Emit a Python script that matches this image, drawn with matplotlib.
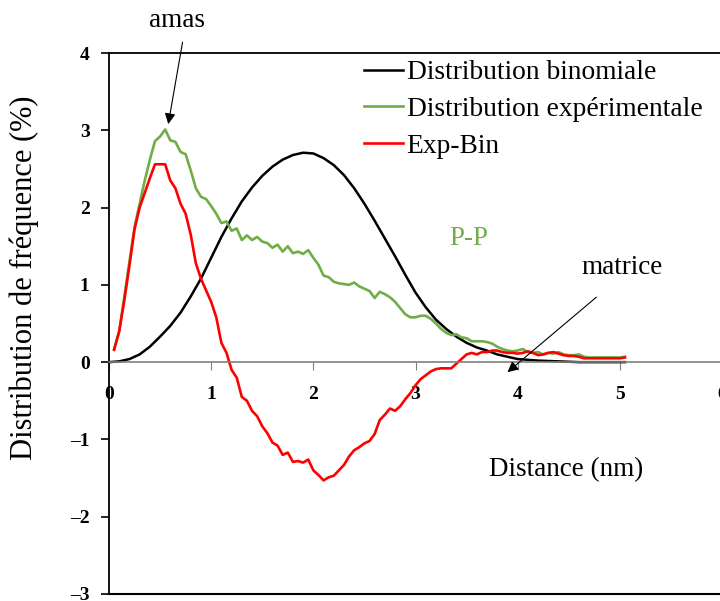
import matplotlib
matplotlib.use("Agg")
import matplotlib.pyplot as plt
from matplotlib.ticker import FuncFormatter

plt.rcParams['font.family'] = ['Liberation Serif', 'DejaVu Serif']
plt.rcParams['axes.unicode_minus'] = False

# binomial distribution (smooth)
dist_bin = [0, 0.1, 0.2, 0.3, 0.4, 0.5, 0.6, 0.7, 0.8, 0.9, 1.0, 1.1, 1.2, 1.3, 1.4, 1.5,
            1.6, 1.7, 1.8, 1.9, 2.0, 2.1, 2.2, 2.3, 2.4, 2.5, 2.6, 2.7, 2.8, 2.9, 3.0, 3.1,
            3.2, 3.3, 3.4, 3.5, 3.6, 3.7, 3.8, 3.9, 4.0, 4.2, 4.4, 4.6, 4.8, 5.05]
freq_bin = [0, 0.01, 0.04, 0.1, 0.2, 0.33, 0.47, 0.64, 0.85, 1.08, 1.35, 1.62, 1.86, 2.08,
            2.26, 2.41, 2.53, 2.62, 2.68, 2.71, 2.7, 2.64, 2.55, 2.42, 2.25, 2.05, 1.83, 1.6,
            1.37, 1.13, 0.9, 0.71, 0.55, 0.43, 0.33, 0.25, 0.19, 0.15, 0.1, 0.07, 0.04, 0.02,
            0.01, 0.0, 0.0, 0.0]

# experimental distribution
dist_exp = [0.05, 0.10, 0.15, 0.20, 0.25, 0.30, 0.35, 0.40, 0.45, 0.50, 0.55, 0.60, 0.65, 0.70,
            0.75, 0.80, 0.85, 0.90, 0.95, 1.00, 1.05, 1.10, 1.15, 1.20, 1.25, 1.30, 1.35, 1.40,
            1.45, 1.50, 1.55, 1.60, 1.65, 1.70, 1.75, 1.80, 1.85, 1.90, 1.95, 2.00, 2.05, 2.10,
            2.15, 2.20, 2.25, 2.30, 2.35, 2.40, 2.45, 2.50, 2.55, 2.60, 2.65, 2.70, 2.75, 2.80,
            2.85, 2.90, 2.95, 3.00, 3.05, 3.10, 3.15, 3.20, 3.25, 3.30, 3.35, 3.40, 3.45, 3.50,
            3.55, 3.60, 3.65, 3.70, 3.75, 3.80, 3.85, 3.90, 3.95, 4.00, 4.05, 4.10, 4.15, 4.20,
            4.25, 4.30, 4.35, 4.40, 4.45, 4.50, 4.55, 4.60, 4.65, 4.70, 4.75, 4.80, 4.85, 4.90,
            4.95, 5.00, 5.05]
freq_exp = [0.17, 0.40, 0.85, 1.30, 1.75, 2.05, 2.35, 2.62, 2.86, 2.92, 3.01, 2.87, 2.85, 2.72,
            2.69, 2.48, 2.25, 2.14, 2.11, 2.02, 1.92, 1.80, 1.82, 1.70, 1.73, 1.58, 1.64, 1.58,
            1.62, 1.56, 1.54, 1.48, 1.52, 1.43, 1.50, 1.41, 1.43, 1.40, 1.45, 1.35, 1.26, 1.12,
            1.10, 1.04, 1.02, 1.01, 1.00, 1.03, 0.98, 0.95, 0.92, 0.83, 0.91, 0.88, 0.84, 0.78,
            0.70, 0.62, 0.58, 0.58, 0.60, 0.60, 0.56, 0.50, 0.43, 0.38, 0.35, 0.36, 0.32, 0.31,
            0.27, 0.27, 0.27, 0.26, 0.24, 0.20, 0.17, 0.15, 0.14, 0.15, 0.17, 0.13, 0.12, 0.13,
            0.10, 0.12, 0.11, 0.13, 0.10, 0.09, 0.09, 0.10, 0.07, 0.06, 0.06, 0.06, 0.06, 0.06,
            0.06, 0.06, 0.07]

# difference exp - bin
dist_diff = dist_exp
freq_diff = [0.16, 0.40, 0.80, 1.25, 1.72, 2.00, 2.19, 2.38, 2.56, 2.56, 2.56, 2.35, 2.25, 2.05,
             1.92, 1.65, 1.28, 1.08, 0.93, 0.78, 0.58, 0.25, 0.12, -0.10, -0.20, -0.45, -0.50,
             -0.63, -0.70, -0.83, -0.92, -1.04, -1.08, -1.20, -1.17, -1.29, -1.28, -1.30, -1.26,
             -1.40, -1.46, -1.53, -1.49, -1.47, -1.40, -1.33, -1.22, -1.14, -1.10, -1.05, -1.02,
             -0.93, -0.75, -0.68, -0.60, -0.63, -0.57, -0.48, -0.40, -0.30, -0.22, -0.17, -0.12,
             -0.09, -0.08, -0.08, -0.08, -0.02, 0.04, 0.10, 0.12, 0.10, 0.13, 0.13, 0.15, 0.15,
             0.13, 0.12, 0.12, 0.11, 0.12, 0.14, 0.12, 0.09, 0.10, 0.12, 0.13, 0.11, 0.09, 0.08,
             0.08, 0.07, 0.05, 0.05, 0.05, 0.05, 0.05, 0.05, 0.05, 0.05, 0.06]

green = '#70AD47'

fig = plt.figure(figsize=(7.2, 6.01), dpi=100)
ax = fig.add_axes([109/720, 7/601, 613/720, 541/601])

l1, = ax.plot(dist_bin, freq_bin, color='black', lw=1.8)
l2, = ax.plot(dist_exp, freq_exp, color=green, lw=1.9)
l3, = ax.plot(dist_diff, freq_diff, color='#FF0000', lw=1.9)

ax.set_xlim(0, 6)
ax.set_ylim(-3, 4)
ax.set_xticks(range(0, 7))
ax.set_yticks(range(-3, 5))
ax.yaxis.set_major_formatter(FuncFormatter(
    lambda v, p: ('\u2013%d' % abs(v)) if v < 0 else '%d' % v))

# x axis at zero, grey; frame bottom kept through a secondary axis
ax.spines['bottom'].set_position(('data', 0))
ax.spines['bottom'].set_color('#808080')
ax.spines['bottom'].set_linewidth(1.2)
ax.spines['top'].set_linewidth(1.3)
ax.spines['left'].set_linewidth(1.3)
ax.spines['right'].set_visible(False)
frame = ax.secondary_xaxis('bottom')
frame.set_xticks([])
frame.spines['bottom'].set_linewidth(1.5)

ax.tick_params(axis='x', direction='out', length=6, color='#808080', pad=11,
               labelsize=14)
ax.tick_params(axis='y', direction='out', length=6, width=1.2, pad=8, labelsize=14)
for lab in ax.get_xticklabels() + ax.get_yticklabels():
    lab.set_fontweight('bold')

ax.set_ylabel('Distribution de fréquence (%)', fontsize=22, va='center', ha='center')
ax.yaxis.set_label_coords((24 - 109) / 613, (594 - 278) / 541)
ax.set_xlabel('Distance (nm)', fontsize=19.5, va='top')
ax.xaxis.set_label_coords((566 - 109) / 613, (594 - 457) / 541)

fig.legend([l1, l2, l3], ['Distribution binomiale', 'Distribution expérimentale', 'Exp-Bin'],
           loc='upper left', bbox_to_anchor=(364/720, 1 - 60/601), frameon=False,
           fontsize=19.8, handlelength=1.4, handletextpad=0.15, labelspacing=0.42,
           borderpad=0, borderaxespad=0)

arrow = dict(arrowstyle='-|>', color='black', lw=0.8, mutation_scale=16,
             shrinkA=0, shrinkB=0)
ax.text(0.665, 4.42, 'amas', fontsize=19.5, ha='center', va='center')
ax.annotate('', xy=(0.58, 3.08), xytext=(0.72, 4.14), arrowprops=arrow)
ax.text(5.02, 1.22, 'matrice', fontsize=19.5, ha='center', va='center')
ax.annotate('', xy=(3.90, -0.13), xytext=(4.77, 0.84), arrowprops=arrow)
ax.text(3.52, 1.60, 'P-P', fontsize=19.5, ha='center', va='center', color=green)

fig.savefig('out.png', dpi=100)
